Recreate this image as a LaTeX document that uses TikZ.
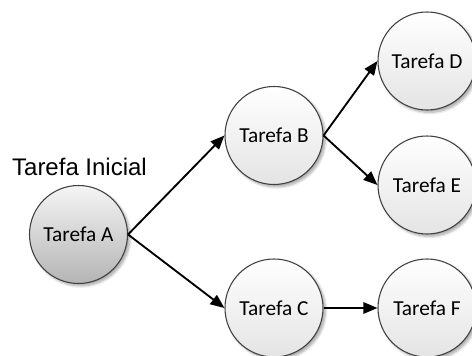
\documentclass[tikz,border=0pt]{standalone}
\usepackage{fontspec}
\setmainfont{Carlito}
\newfontfamily\titlefont{Liberation Sans}
\usetikzlibrary{arrows.meta,shadows.blur}
\definecolor{rimgray}{HTML}{404040}
\definecolor{lightbottom}{HTML}{E4E4E4}
\definecolor{darkbottom}{HTML}{B4B4B4}
\tikzset{
  task/.style={circle, draw=rimgray, line width=0.8pt, minimum size=73.5pt,
    inner sep=0pt, font=\fontsize{16}{19}\selectfont,
    top color=white, bottom color=lightbottom,
    blur shadow={shadow xshift=1.8pt, shadow yshift=-1.8pt, shadow blur steps=6,
      shadow opacity=35}},
  starttask/.style={task, top color=white!96!black, bottom color=darkbottom},
  flow/.style={line width=1.4pt, -{Triangle[length=10.5pt,width=8.5pt]}}
}
\begin{document}
\begin{tikzpicture}[x=0.75pt,y=-0.75pt]
  \useasboundingbox (0,0) rectangle (472,356);
  \node[starttask] (a) at (78.5,234.5) {Tarefa A};
  \node[task] (b) at (274,135.5) {Tarefa B};
  \node[task] (c) at (274,308) {Tarefa C};
  \node[task] (d) at (427,61) {Tarefa D};
  \node[task] (e) at (427,185) {Tarefa E};
  \node[task] (f) at (427,308) {Tarefa F};
  \node[font=\titlefont\fontsize{18}{21}\selectfont, inner sep=0pt] (title) at (79.5,167) {Tarefa Inicial};
  \draw[flow] (a.east) -- (b.west);
  \draw[flow] (a.east) -- (c.west);
  \draw[flow] (b.east) -- (d.west);
  \draw[flow] (b.east) -- (e.west);
  \draw[flow] (c.east) -- (f.west);
\end{tikzpicture}
\end{document}
